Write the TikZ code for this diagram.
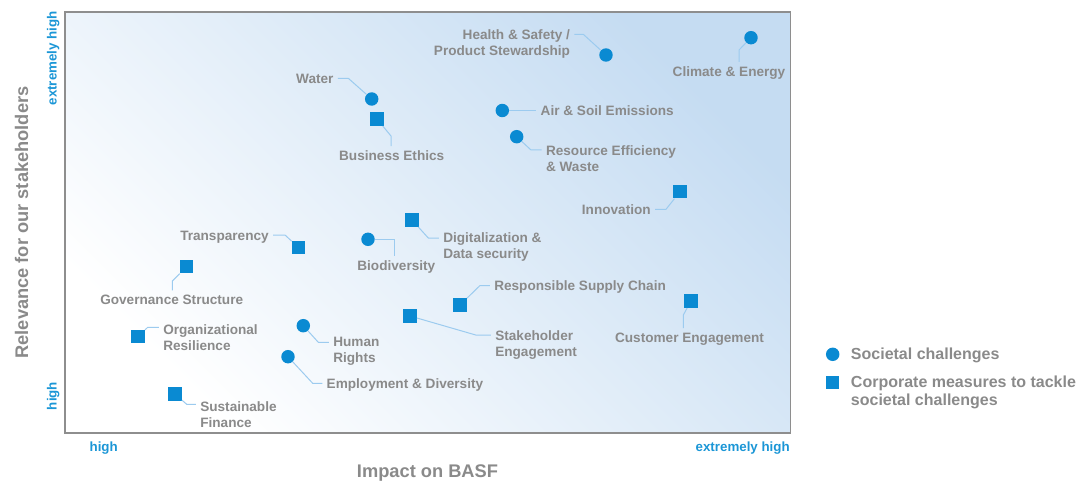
\documentclass[tikz,border=0pt]{standalone}
\usepackage{fontspec}
\setmainfont{Liberation Sans}
\definecolor{mk}{HTML}{0A8AD2}
\definecolor{tgray}{HTML}{8A8A8A}
\definecolor{axblue}{HTML}{1B96D6}
\definecolor{lblue}{HTML}{9CCBEF}
\definecolor{bgblue}{HTML}{C5DCF2}
\definecolor{framegray}{HTML}{8E8E8E}
\begin{document}
\begin{tikzpicture}[x=0.75pt,y=-0.75pt,
  soc/.style={circle, fill=mk, inner sep=0pt, minimum size=10.1pt},
  corp/.style={rectangle, fill=mk, inner sep=0pt, minimum size=10.1pt},
  lab/.style={text=tgray, font=\bfseries\fontsize{10.2}{12}\selectfont, inner sep=0pt, outer sep=3.3pt},
  axlab/.style={text=axblue, font=\bfseries\fontsize{10}{12}\selectfont, inner sep=0pt},
  axtitle/.style={text=tgray, font=\bfseries\fontsize{13.7}{16}\selectfont, inner sep=0pt},
  leglab/.style={text=tgray, font=\bfseries\fontsize{12}{13.5}\selectfont, inner sep=0pt, align=left},
  leader/.style={draw=lblue, line width=0.75pt}]
\useasboundingbox (0,0) rectangle (1081,481);
% plot area
\shade[bottom color=white, top color=bgblue, shading angle=-45] (65,12) rectangle (790.5,433);
\draw[framegray, line width=0.9pt] (65,12) rectangle (790.5,433);

% axis labels
\node[axlab, rotate=90] (yext) at (53.3,58.3) {extremely high};
\node[axlab, rotate=90] (yhigh) at (53.3,396) {high};
\node[axlab, anchor=mid] (xhigh) at (103.7,448) {high};
\node[axlab, anchor=mid east] (xext) at (790,448) {extremely high};
\node[axtitle, anchor=mid] (xtitle) at (427.5,474) {Impact on BASF};
\node[axtitle, rotate=90] (ytitle) at (21.7,222.5) {Relevance for our stakeholders};

% societal challenges (circles)
\node[soc] (climate) at (751,37.7) {};
\node[soc] (health) at (606,55) {};
\node[soc] (water) at (371.7,99) {};
\node[soc] (air) at (502.3,110.5) {};
\node[soc] (resource) at (516.7,136.7) {};
\node[soc] (bio) at (368,239.3) {};
\node[soc] (human) at (303.3,325.7) {};
\node[soc] (employ) at (288,356.7) {};

% corporate measures (squares)
\node[corp] (ethics) at (377,119) {};
\node[corp] (innov) at (680,191.7) {};
\node[corp] (digit) at (412,220) {};
\node[corp] (transp) at (298.7,247.7) {};
\node[corp] (govern) at (186.7,266.7) {};
\node[corp] (supply) at (460,305) {};
\node[corp] (stake) at (410,316) {};
\node[corp] (customer) at (691,301) {};
\node[corp] (orgres) at (138,336.7) {};
\node[corp] (finance) at (175,394) {};

% labels
\node[lab, anchor=mid] (climateL) at (729,72.5) {Climate \& Energy};
\node[lab, anchor=east, align=right] (healthL) at (574.4,43.8) {Health \& Safety /\\Product Stewardship};
\node[lab, anchor=mid east] (waterL) at (337.9,79.8) {Water};
\node[lab, anchor=mid west] (airL) at (536.3,112) {Air \& Soil Emissions};
\node[lab, anchor=west, align=left] (resourceL) at (541.6,159) {Resource Efficiency\\\& Waste};
\node[lab, anchor=mid] (bioL) at (396.3,266.8) {Biodiversity};
\node[lab, anchor=west, align=left] (humanL) at (328.9,351.3) {Human\\Rights};
\node[lab, anchor=mid west] (employL) at (322.3,384.8) {Employment \& Diversity};
\node[lab, anchor=mid] (ethicsL) at (391.7,156.8) {Business Ethics};
\node[lab, anchor=mid east] (innovL) at (655.1,210.8) {Innovation};
\node[lab, anchor=west, align=left] (digitL) at (438.9,247.3) {Digitalization \&\\Data security};
\node[lab, anchor=mid east] (transpL) at (273.1,236.5) {Transparency};
\node[lab, anchor=mid] (governL) at (171.7,300.8) {Governance Structure};
\node[lab, anchor=mid west] (supplyL) at (489.9,287) {Responsible Supply Chain};
\node[lab, anchor=west, align=left] (stakeL) at (490.9,344.7) {Stakeholder\\Engagement};
\node[lab, anchor=mid] (customerL) at (689.5,338.5) {Customer Engagement};
\node[lab, anchor=west, align=left] (orgresL) at (158.9,337.7) {Organizational\\Resilience};
\node[lab, anchor=west, align=left] (financeL) at (195.9,414.3) {Sustainable\\Finance};

% bend points
\coordinate (bClimate) at (739,50);
\coordinate (bHealth) at (583.3,34.3);
\coordinate (bWater) at (348.3,78.3);
\coordinate (bResource) at (531,150);
\coordinate (bBio) at (394,239.3);
\coordinate (bHuman) at (318.3,342.3);
\coordinate (bEmploy) at (312.7,383.3);
\coordinate (bEthics) at (391,136);
\coordinate (bInnov) at (666,209.3);
\coordinate (bDigit) at (428.3,238);
\coordinate (bTransp) at (285,235);
\coordinate (bGovern) at (172.3,281);
\coordinate (bSupply) at (480,285.5);
\coordinate (bStake) at (475.7,335);
\coordinate (bCustomer) at (683.3,315);
\coordinate (bOrgres) at (147.7,327.3);
\coordinate (bFinance) at (186.7,404.3);

% leader lines
\draw[leader] (climate) -- (bClimate) -- (bClimate |- climateL.north);
\draw[leader] (health) -- (bHealth) -- (bHealth -| healthL.east);
\draw[leader] (water) -- (bWater) -- (bWater -| waterL.east);
\draw[leader] (air) -- (air -| airL.west);
\draw[leader] (resource) -- (bResource) -- (bResource -| resourceL.west);
\draw[leader] (bio) -- (bBio) -- (bBio |- bioL.north);
\draw[leader] (human) -- (bHuman) -- (bHuman -| humanL.west);
\draw[leader] (employ) -- (bEmploy) -- (bEmploy -| employL.west);
\draw[leader] (ethics) -- (bEthics) -- (bEthics |- ethicsL.north);
\draw[leader] (innov) -- (bInnov) -- (bInnov -| innovL.east);
\draw[leader] (digit) -- (bDigit) -- (bDigit -| digitL.west);
\draw[leader] (transp) -- (bTransp) -- (bTransp -| transpL.east);
\draw[leader] (govern) -- (bGovern) -- (bGovern |- governL.north);
\draw[leader] (supply) -- (bSupply) -- (bSupply -| supplyL.west);
\draw[leader] (stake) -- (bStake) -- (bStake -| stakeL.west);
\draw[leader] (customer) -- (bCustomer) -- (bCustomer |- customerL.north);
\draw[leader] (orgres) -- (bOrgres) -- (bOrgres -| orgresL.west);
\draw[leader] (finance) -- (bFinance) -- (bFinance -| financeL.west);

% legend
\node[soc] (legSoc) at (832.7,354.3) {};
\node[corp] (legCorp) at (832.7,382.7) {};
\node[leglab, anchor=mid west] (legSocL) at (850.7,355.5) {Societal challenges};
\node[leglab, anchor=west] (legCorpL) at (850.7,392.5) {Corporate measures to tackle\\societal challenges};
\end{tikzpicture}
\end{document}
